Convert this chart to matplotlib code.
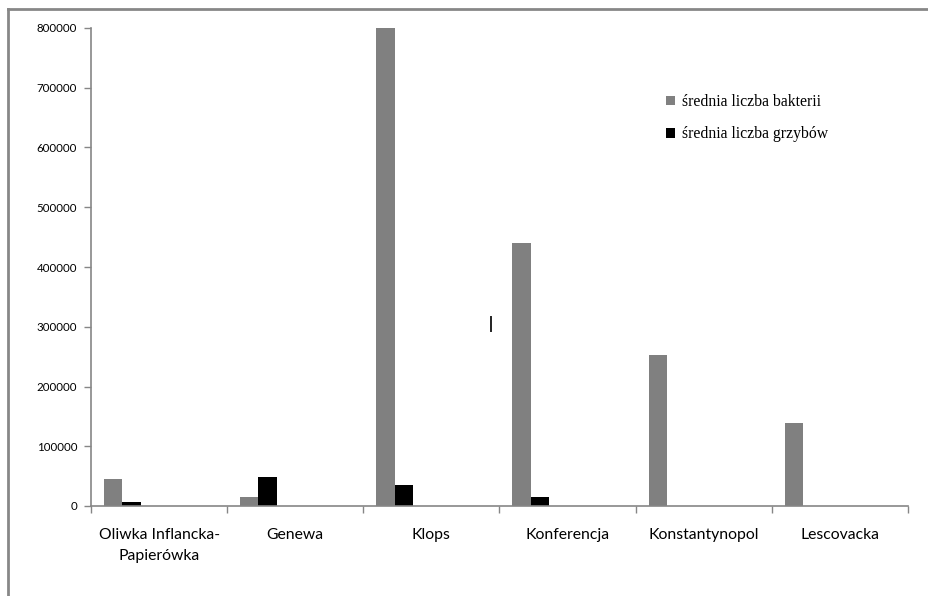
import numpy as np
import matplotlib
matplotlib.use("Agg")
import matplotlib.pyplot as plt
from matplotlib.lines import Line2D

# data
categories = ["Oliwka Inflancka-\nPapierówka", "Genewa", "Klops",
              "Konferencja", "Konstantynopol", "Lescovacka"]
bakterie = [45000, 15000, 800000, 440000, 252000, 139000]
grzyby = [6000, 48000, 35000, 15000, 0, 0]
series_names = ["średnia liczba bakterii", "średnia liczba grzybów"]
y_ticks = [0, 100000, 200000, 300000, 400000, 500000, 600000, 700000, 800000]

W, H = 929, 596
my_dpi = 100
fig = plt.figure(figsize=(W / my_dpi, H / my_dpi), dpi=my_dpi)
ax = fig.add_axes([91 / W, 1 - 506 / H, (908 - 91) / W, (506 - 28) / H])

axis_grey = "#868686"
bar_w = 0.135
x = np.arange(len(categories))

b1 = ax.bar(x + 0.095 + bar_w / 2, bakterie, width=bar_w, color="#808080",
            linewidth=0, label=series_names[0])
b2 = ax.bar(x + 0.095 + 1.5 * bar_w, grzyby, width=bar_w, color="#000000",
            linewidth=0, label=series_names[1])

ax.set_xlim(0, len(categories))
ax.set_ylim(0, 800000)

# ticks at category borders, labels centered in each slot
ax.set_xticks(np.arange(len(categories) + 1))
ax.set_xticklabels([])
ax.set_xticks(x + 0.5, minor=True)
ax.set_xticklabels(categories, minor=True, fontsize=11.3, family="Lato",
                   linespacing=1.6)
ax.tick_params(axis="x", which="minor", length=0, pad=16)
ax.tick_params(axis="x", which="major", length=5, width=1, color=axis_grey,
               direction="out")

ax.set_yticks(y_ticks)
ax.set_yticklabels([str(v) for v in y_ticks], fontsize=8.3, family="Lato")
ax.tick_params(axis="y", length=5, width=1, color=axis_grey, pad=5,
               direction="out")

for side in ["top", "right"]:
    ax.spines[side].set_visible(False)
for side in ["left", "bottom"]:
    ax.spines[side].set_color(axis_grey)
    ax.spines[side].set_linewidth(1.2)

leg = ax.legend(handles=[b1, b2], loc="upper left",
                bbox_to_anchor=(666 / W, 1 - 94 / H),
                bbox_transform=fig.transFigure, frameon=False,
                prop={"family": "Liberation Serif", "size": 11.3},
                handlelength=0.55, handleheight=0.55, handletextpad=0.45,
                labelspacing=1.05, borderpad=0, borderaxespad=0)

# outer chart frame (only top and left edges visible)
fig.add_artist(Line2D([8 / W, 1.0], [1 - 9 / H, 1 - 9 / H],
                      transform=fig.transFigure, color="#878787", lw=2))
fig.add_artist(Line2D([8 / W, 8 / W], [1 - 9 / H, 0.0],
                      transform=fig.transFigure, color="#878787", lw=2))

# small stray cursor mark
fig.add_artist(Line2D([491 / W, 491 / W], [1 - 317 / H, 1 - 331 / H],
                      transform=fig.transFigure, color="#222222", lw=1.4))

fig.savefig("out.png", dpi=my_dpi)
